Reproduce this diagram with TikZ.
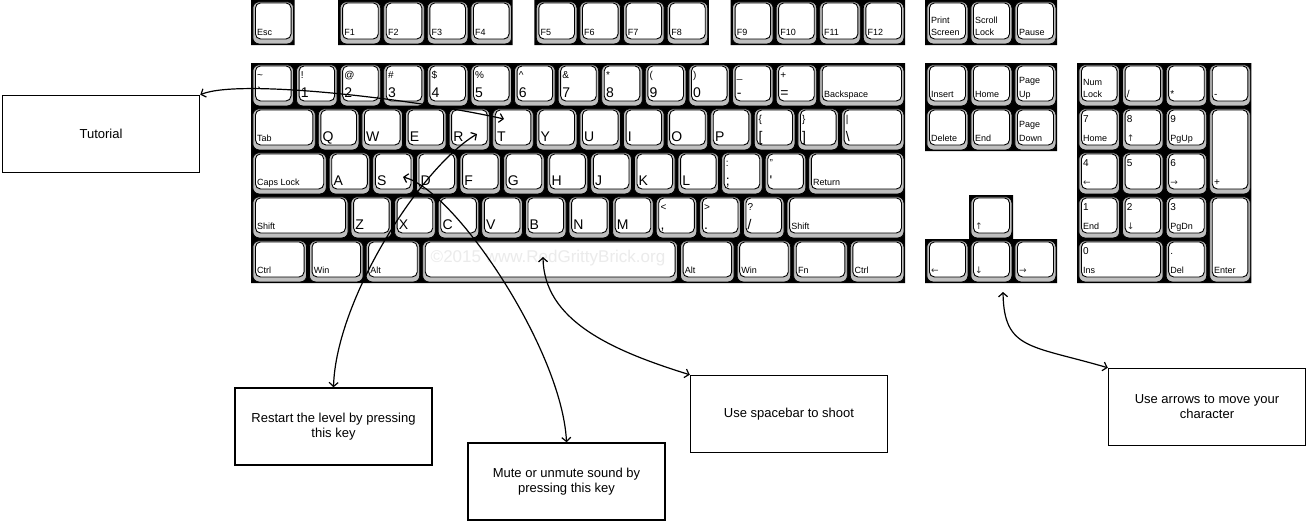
\documentclass[tikz,border=0pt]{standalone}
\usepackage{fontspec}
\setmainfont{Liberation Sans}
\newfontfamily\arrowfam{DejaVu Sans}
\usepackage{tikz}
\usetikzlibrary{arrows.meta,calc,positioning}
\tikzset{note/.style={draw, line width=1.5pt, minimum width=197pt, minimum height=77pt, align=center, font=\fontsize{13}{15}\selectfont}}
\tikzset{connector/.style={<->, line width=1.2pt}}
\tikzset{keyskirt/.style={draw, line width=0.8pt, fill=black!25, rounded corners=6pt, inner sep=0pt}}
\tikzstyle{keyface}=[draw, line width=0.9pt, fill=white, rounded corners=5pt, inner sep=0pt]
\tikzstyle{keylbl}=[inner sep=0pt, anchor=base west]
\tikzstyle{watermark}=[text=black!8, font=\fontsize{17}{17}\selectfont]
\newcommand\bigk{\fontsize{14}{14}\selectfont}
\newcommand\midk{\fontsize{10}{10}\selectfont}
\newcommand\smk{\fontsize{9}{9}\selectfont}
\newcommand\arrk{\arrowfam\fontsize{9}{9}\selectfont\color{black!80}}
\newcommand\kbkey[7]{%
  \node[keyskirt, minimum width=#4-3, minimum height=#5-3, anchor=north west] (#1-s) at ({#2+1.5},{#3+1.5}) {};
  \node[keyface, minimum width=#4-8, minimum height=#5-9, anchor=north west] (#1) at ({#2+4},{#3+2.5}) {};
  \node[keylbl] (#1-b) at ({#2+6},{#3+#5-10}) {#6};
  \node[keylbl] (#1-t) at ({#2+6},{#3+15}) {#7};
}
\begin{document}
\begin{tikzpicture}[x=1pt, y=-1pt, >={Straight Barb[length=4pt,width=9pt]}]
\useasboundingbox (0,0) rectangle (1311,525);
\fill[black] (251,0) rectangle (294.6,45) (338.2,0) rectangle (512.6,45) (534.4,0) rectangle (708.8,45)
  (730.6,0) rectangle (905,45) (925,0) rectangle (1057,45) (251,63) rectangle (905,283)
  (925,63) rectangle (1057,151) (969,195) rectangle (1013,239) (925,239) rectangle (1057,283)
  (1077,63) rectangle (1251.4,283);
\kbkey{kesc}{251}{0}{43.6}{45}{\smk Esc}{}
\foreach \i in {1,...,4} {\kbkey{kf\i}{338.2+(\i-1)*43.6}{0}{43.6}{45}{\smk F\i}{}}
\foreach \i in {5,...,8} {\kbkey{kf\i}{534.4+(\i-5)*43.6}{0}{43.6}{45}{\smk F\i}{}}
\foreach \i in {9,...,12} {\kbkey{kf\i}{730.6+(\i-9)*43.6}{0}{43.6}{45}{\smk F\i}{}}
\kbkey{kprint}{925}{0}{44}{45}{\smk\shortstack[l]{Print\\[2pt]Screen}}{}
\kbkey{kscroll}{969}{0}{44}{45}{\smk\shortstack[l]{Scroll\\[2pt]Lock}}{}
\kbkey{kpause}{1013}{0}{44}{45}{\smk Pause}{}
\foreach \i/\nm/\t/\b in {0/grave/\textasciitilde/\textasciigrave, 1/one/!/1, 2/two/@/2, 3/three/\#/3,
  4/four/\$/4, 5/five/\%/5, 6/six/\textasciicircum/6, 7/seven/\&/7, 8/eight/*/8, 9/nine/(/9,
  10/zero/)/0, 11/minus/\_/-, 12/equal/+/=}
  {\kbkey{k\nm}{251+\i*43.6}{63}{43.6}{44}{\bigk\b}{\midk\t}}
\kbkey{kback}{817.8}{63}{87.2}{44}{\smk Backspace}{}
\kbkey{ktab}{251}{107}{65.4}{44}{\smk Tab}{}
\foreach \i/\nm in {0/Q, 1/W, 2/E, 3/R, 4/T, 5/Y, 6/U, 7/I, 8/O, 9/P}
  {\kbkey{k\nm}{316.4+\i*43.6}{107}{43.6}{44}{\bigk\nm}{}}
\kbkey{klbr}{752.4}{107}{43.6}{44}{\bigk[}{\midk\{}
\kbkey{krbr}{796}{107}{43.6}{44}{\bigk]}{\midk\}}
\kbkey{kbsl}{839.6}{107}{65.4}{44}{\bigk\textbackslash}{\midk|}
\kbkey{kcaps}{251}{151}{76.3}{44}{\smk Caps Lock}{}
\foreach \i/\nm in {0/A, 1/S, 2/D, 3/F, 4/G, 5/H, 6/J, 7/K, 8/L}
  {\kbkey{k\nm}{327.3+\i*43.6}{151}{43.6}{44}{\bigk\nm}{}}
\kbkey{ksemi}{719.7}{151}{43.6}{44}{\bigk;}{\midk:}
\kbkey{kquote}{763.3}{151}{43.6}{44}{\bigk\textquotesingle}{\midk"}
\kbkey{kreturn}{806.9}{151}{98.1}{44}{\smk Return}{}
\kbkey{klshift}{251}{195}{98.1}{44}{\smk Shift}{}
\foreach \i/\nm in {0/Z, 1/X, 2/C, 3/V, 4/B, 5/N, 6/M}
  {\kbkey{k\nm}{349.1+\i*43.6}{195}{43.6}{44}{\bigk\nm}{}}
\kbkey{kcomma}{654.3}{195}{43.6}{44}{\bigk,}{\midk<}
\kbkey{kdot}{697.9}{195}{43.6}{44}{\bigk.}{\midk>}
\kbkey{kslash}{741.5}{195}{43.6}{44}{\bigk/}{\midk?}
\kbkey{krshift}{785.1}{195}{119.9}{44}{\smk Shift}{}
\kbkey{klctrl}{251}{239}{56.6}{44}{\smk Ctrl}{}
\kbkey{klwin}{307.6}{239}{56.6}{44}{\smk Win}{}
\kbkey{klalt}{364.2}{239}{56.6}{44}{\smk Alt}{}
\kbkey{kspace}{420.8}{239}{257.8}{44}{}{}
\kbkey{kralt}{678.6}{239}{56.6}{44}{\smk Alt}{}
\kbkey{krwin}{735.2}{239}{56.6}{44}{\smk Win}{}
\kbkey{kfn}{791.8}{239}{56.6}{44}{\smk Fn}{}
\kbkey{krctrl}{848.4}{239}{56.6}{44}{\smk Ctrl}{}
\node[watermark] (wm) at (548,258) {©2015 www.RedGrittyBrick.org};
\kbkey{kins}{925}{63}{44}{44}{\smk Insert}{}
\kbkey{khome}{969}{63}{44}{44}{\smk Home}{}
\kbkey{kpgup}{1013}{63}{44}{44}{\smk\shortstack[l]{Page\\[2pt]Up}}{}
\kbkey{kdel}{925}{107}{44}{44}{\smk Delete}{}
\kbkey{kend}{969}{107}{44}{44}{\smk End}{}
\kbkey{kpgdn}{1013}{107}{44}{44}{\smk\shortstack[l]{Page\\[2pt]Down}}{}
\kbkey{kup}{969}{195}{44}{44}{\arrk ↑}{}
\kbkey{kleft}{925}{239}{44}{44}{\arrk ←}{}
\kbkey{kdown}{969}{239}{44}{44}{\arrk ↓}{}
\kbkey{kright}{1013}{239}{44}{44}{\arrk →}{}
\kbkey{knum}{1077}{63}{43.6}{44}{\smk\shortstack[l]{Num\\[2pt]Lock}}{}
\kbkey{kpdiv}{1120.6}{63}{43.6}{44}{\midk/}{}
\kbkey{kpmul}{1164.2}{63}{43.6}{44}{\midk*}{}
\kbkey{kpsub}{1207.8}{63}{43.6}{44}{\midk-}{}
\kbkey{kpseven}{1077}{107}{43.6}{44}{\smk Home}{\midk 7}
\kbkey{kpeight}{1120.6}{107}{43.6}{44}{\arrk ↑}{\midk 8}
\kbkey{kpnine}{1164.2}{107}{43.6}{44}{\smk PgUp}{\midk 9}
\kbkey{kpadd}{1207.8}{107}{43.6}{88}{\midk +}{}
\kbkey{kpfour}{1077}{151}{43.6}{44}{\arrk ←}{\midk 4}
\kbkey{kpfive}{1120.6}{151}{43.6}{44}{}{\midk 5}
\kbkey{kpsix}{1164.2}{151}{43.6}{44}{\arrk →}{\midk 6}
\kbkey{kpone}{1077}{195}{43.6}{44}{\smk End}{\midk 1}
\kbkey{kptwo}{1120.6}{195}{43.6}{44}{\arrk ↓}{\midk 2}
\kbkey{kpthree}{1164.2}{195}{43.6}{44}{\smk PgDn}{\midk 3}
\kbkey{kpenter}{1207.8}{195}{43.6}{88}{\smk Enter}{}
\kbkey{kpzero}{1077}{239}{87.2}{44}{\smk Ins}{\midk 0}
\kbkey{kpdot}{1164.2}{239}{43.6}{44}{\smk Del}{\midk .}

\node[note] (tutorial) at (101,134) {Tutorial};
\node[note] (restart) at (333.5,426.5) {Restart the level by pressing\\this key};
\node[note] (mute) at (566.5,481.5) {Mute or unmute sound by\\pressing this key};
\node[note] (shoot) at (789,414) {Use spacebar to shoot};
\node[note] (move) at (1207,407) {Use arrows to move your\\character};

\coordinate (tipT) at (504,119);
\coordinate (tipR) at (477,134);
\coordinate (tipS) at (403,177);
\coordinate (tipSpace) at (543,257);
\coordinate (tipDown) at (1003,292);

\draw[connector] (tutorial.north east) .. controls (240,78) and (420,100) .. (tipT);
\draw[connector] (restart.north) .. controls (336,300) and (420,168) .. (tipR);
\draw[connector] (tipS) .. controls (455,190) and (562,350) .. (mute.north);
\draw[connector] (tipSpace) .. controls (544,320) and (610,350) .. (shoot.north west);
\draw[connector] (tipDown) .. controls (1004,350) and (1030,345) .. (move.north west);
\end{tikzpicture}
\end{document}
